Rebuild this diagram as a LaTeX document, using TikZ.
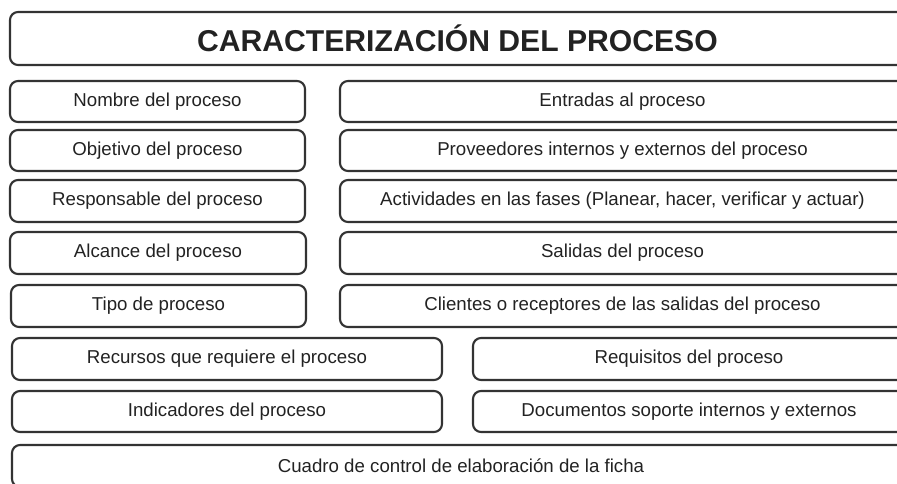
\documentclass[tikz,border=0pt]{standalone}
\usepackage{fontspec}
\setmainfont{Liberation Sans}
\definecolor{edge}{HTML}{333333}
\definecolor{ink}{HTML}{222222}
\tikzset{
  cbox/.style={draw=edge, line width=1.6pt, rounded corners=6pt, inner sep=0pt, outer sep=0pt,
    text=ink, font=\fontsize{14}{16}\selectfont, align=center},
  tbox/.style={cbox, font=\fontsize{22.6}{26}\selectfont\bfseries}
}
% name, x1, y1, x2, y2, style, text
\newcommand\pbox[7]{%
  \node[#6, minimum width={(#4-#2)*0.75pt}, minimum height={(#5-#3)*0.75pt}]
    (#1) at ({(#2+#4)/2},{(#3+#5)/2}) {#7};}
\begin{document}
\begin{tikzpicture}[x=0.75pt,y=-0.75pt]
\useasboundingbox (0,0) rectangle (897,483);
\clip (0,0) rectangle (897,483);
\pbox{title}{10}{12}{905}{65}{tbox}{CARACTERIZACIÓN DEL PROCESO}
\pbox{l1}{10}{81}{305}{122}{cbox}{Nombre del proceso}
\pbox{l2}{10}{130}{305}{171}{cbox}{Objetivo del proceso}
\pbox{l3}{10}{180}{305}{222}{cbox}{Responsable del proceso}
\pbox{l4}{10}{232}{306}{274}{cbox}{Alcance del proceso}
\pbox{l5}{11}{285}{306}{327}{cbox}{Tipo de proceso}
\pbox{r1}{340}{81}{905}{122}{cbox}{Entradas al proceso}
\pbox{r2}{340}{130}{905}{171}{cbox}{Proveedores internos y externos del proceso}
\pbox{r3}{340}{180}{905}{222}{cbox}{Actividades en las fases (Planear, hacer, verificar y actuar)}
\pbox{r4}{340}{232}{905}{274}{cbox}{Salidas del proceso}
\pbox{r5}{340}{285}{905}{327}{cbox}{Clientes o receptores de las salidas del proceso}
\pbox{l6}{12}{338}{442}{380}{cbox}{Recursos que requiere el proceso}
\pbox{r6}{473}{338}{905}{380}{cbox}{Requisitos del proceso}
\pbox{l7}{12}{391}{442}{432}{cbox}{Indicadores del proceso}
\pbox{r7}{473}{391}{905}{432}{cbox}{Documentos soporte internos y externos}
\pbox{bot}{12}{445}{910}{487}{cbox}{Cuadro de control de elaboración de la ficha}
\end{tikzpicture}
\end{document}
